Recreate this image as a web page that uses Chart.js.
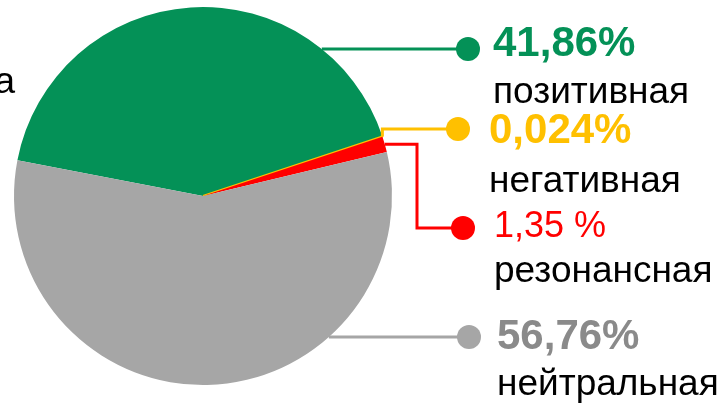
<!DOCTYPE html>
<html>
<head>
<meta charset="utf-8">
<script src="https://cdn.jsdelivr.net/npm/chart.js@4"></script>
<style>
  html, body { margin: 0; padding: 0; background: #fff; }
  #wrap { width: 724px; height: 407px; }
</style>
</head>
<body>
<div id="wrap"><canvas id="pieChart" width="724" height="407"></canvas></div>
<script>
// data
const categories = ['позитивная', 'негативная', 'резонансная', 'нейтральная'];
const shares = [41.86, 0.024, 1.35, 56.76];
const valueLabels = ['41,86%', '0,024%', '1,35 %', '56,76%'];

const sliceColors = ['#049157', '#FFC000', '#FF0000', '#A6A6A6'];
const valueColors = ['#049157', '#FFC000', '#FF0000', '#8A8A8A'];

// where each callout sits (dot + two lines of text)
const callouts = [
    { dotX: 468, dotY: 49,  textX: 493, valueY: 56,  nameY: 103, bold: true,  size: 42, path: 'edge' },
    { dotX: 458, dotY: 129, textX: 489, valueY: 143, nameY: 192, bold: true,  size: 42, path: 'step' },
    { dotX: 463, dotY: 228, textX: 494, valueY: 237, nameY: 282, bold: false, size: 36, path: 'elbow', elbowX: 417 },
    { dotX: 469, dotY: 337, textX: 497, valueY: 349, nameY: 395, bold: true,  size: 42, path: 'edge' }
];

const calloutPlugin = {
    id: 'callouts',
    afterDraw(chart) {
        const ctx = chart.ctx;
        const meta = chart.getDatasetMeta(0);
        ctx.save();
        meta.data.forEach((arc, i) => {
            const c = callouts[i];
            const cx = arc.x, cy = arc.y, r = arc.outerRadius;
            const mid = (arc.startAngle + arc.endAngle) / 2;
            ctx.strokeStyle = sliceColors[i];
            ctx.lineWidth = 3;
            ctx.beginPath();
            if (c.path === 'edge') {
                // horizontal line from the rim at the dot's height
                const dy = c.dotY - cy;
                const sx = cx + Math.sqrt(Math.max(0, r * r - dy * dy));
                ctx.moveTo(sx, c.dotY);
                ctx.lineTo(c.dotX, c.dotY);
            } else if (c.path === 'step') {
                const sx = cx + r * Math.cos(mid);
                const sy = cy + r * Math.sin(mid);
                ctx.moveTo(sx, sy);
                ctx.lineTo(sx, c.dotY);
                ctx.lineTo(c.dotX, c.dotY);
            } else {
                const sx = cx + r * Math.cos(mid);
                const sy = cy + r * Math.sin(mid);
                ctx.moveTo(sx, sy);
                ctx.lineTo(c.elbowX, sy);
                ctx.lineTo(c.elbowX, c.dotY);
                ctx.lineTo(c.dotX, c.dotY);
            }
            ctx.stroke();

            ctx.fillStyle = sliceColors[i];
            ctx.beginPath();
            ctx.arc(c.dotX, c.dotY, 12, 0, Math.PI * 2);
            ctx.fill();

            ctx.textAlign = 'left';
            ctx.textBaseline = 'alphabetic';
            ctx.fillStyle = valueColors[i];
            ctx.font = (c.bold ? 'bold ' : '') + c.size + 'px "Liberation Sans", Arial, sans-serif';
            ctx.fillText(valueLabels[i], c.textX, c.valueY);

            ctx.fillStyle = '#000';
            ctx.font = '37px "Liberation Sans", Arial, sans-serif';
            ctx.fillText(categories[i], c.textX, c.nameY);
        });

        // leftover word end, cut by the left edge
        ctx.fillStyle = '#000';
        ctx.font = '37px "Liberation Sans", Arial, sans-serif';
        ctx.textAlign = 'right';
        ctx.fillText('а', 15, 93);
        ctx.restore();
    }
};

document.addEventListener('DOMContentLoaded', () => {
    const ctx = document.getElementById('pieChart').getContext('2d');
    new Chart(ctx, {
        type: 'pie',
        data: {
            labels: categories,
            datasets: [{
                data: shares,
                backgroundColor: sliceColors,
                borderColor: sliceColors,
                // only the tiny yellow slice gets a stroke so it stays visible
                borderWidth: [0, 2, 0, 0]
            }]
        },
        options: {
            responsive: false,
            animation: false,
            rotation: -79.1,
            layout: {
                padding: { left: 13, right: 331, top: 6, bottom: 21 }
            },
            plugins: {
                legend: { display: false },
                tooltip: { enabled: false }
            },
            events: []
        },
        plugins: [calloutPlugin]
    });
});
</script>
</body>
</html>
